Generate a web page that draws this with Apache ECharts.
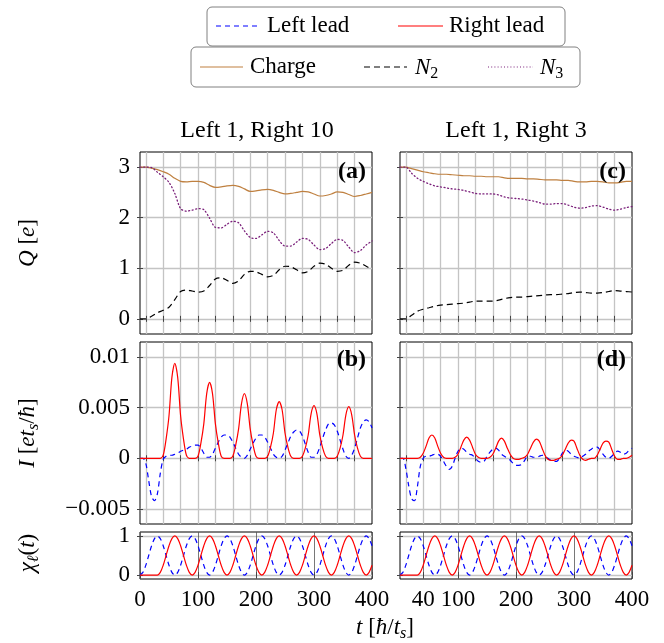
<!DOCTYPE html>
<html><head><meta charset="utf-8">
<script src="https://cdn.jsdelivr.net/npm/echarts@6/dist/echarts.min.js"></script>
<style>html,body{margin:0;padding:0;background:#fff}#c{width:664px;height:643px}</style>
</head><body><div id="c"></div><script>
const tQ = [0,10,20,30,40,50,60,70,80,90,100,110,120,130,140,150,160,170,180,190,200,210,220,230,240,250,260,270,280,290,300,310,320,330,340,350,360,370,380,390,400];
const tI = [0,5,10,15,20,25,30,35,40,45,50,55,60,65,70,75,80,85,90,95,100,105,110,115,120,125,130,135,140,145,150,155,160,165,170,175,180,185,190,195,200,205,210,215,220,225,230,235,240,245,250,255,260,265,270,275,280,285,290,295,300,305,310,315,320,325,330,335,340,345,350,355,360,365,370,375,380,385,390,395,400];

// Panel (a): Left 1, Right 10
const chargeA = [3.00,3.00,2.98,2.95,2.91,2.86,2.78,2.72,2.71,2.72,2.72,2.70,2.64,2.60,2.61,2.63,2.64,2.62,2.57,2.52,2.53,2.55,2.56,2.54,2.50,2.47,2.48,2.50,2.52,2.51,2.47,2.43,2.44,2.47,2.51,2.50,2.46,2.42,2.44,2.47,2.50];
const n2A = [0,0,0.05,0.12,0.17,0.23,0.38,0.54,0.57,0.55,0.53,0.55,0.66,0.79,0.81,0.76,0.70,0.75,0.88,0.94,0.93,0.88,0.83,0.86,0.97,1.04,1.03,0.97,0.91,0.94,1.04,1.10,1.08,1.00,0.94,0.96,1.06,1.12,1.10,1.04,0.98];
const n3A = [3.00,3.00,2.99,2.90,2.81,2.70,2.48,2.18,2.13,2.15,2.18,2.16,1.99,1.81,1.80,1.87,1.93,1.90,1.74,1.61,1.59,1.66,1.73,1.70,1.55,1.44,1.44,1.52,1.59,1.57,1.46,1.37,1.39,1.49,1.57,1.55,1.42,1.31,1.35,1.46,1.54];
// Panel (c): Left 1, Right 3
const chargeC = [3.00,3.00,2.97,2.94,2.91,2.89,2.87,2.86,2.86,2.85,2.84,2.83,2.83,2.82,2.82,2.81,2.81,2.81,2.79,2.78,2.78,2.78,2.77,2.77,2.76,2.75,2.75,2.75,2.74,2.74,2.72,2.71,2.71,2.72,2.72,2.71,2.69,2.69,2.70,2.72,2.72];
const n2C = [0,0,0.07,0.15,0.19,0.22,0.25,0.27,0.28,0.29,0.30,0.31,0.33,0.35,0.35,0.35,0.35,0.37,0.40,0.42,0.43,0.43,0.44,0.45,0.46,0.47,0.48,0.48,0.49,0.50,0.52,0.53,0.52,0.51,0.51,0.52,0.54,0.56,0.55,0.54,0.53];
const n3C = [3.00,3.00,2.88,2.78,2.72,2.67,2.63,2.61,2.59,2.57,2.56,2.54,2.51,2.48,2.47,2.47,2.47,2.45,2.41,2.39,2.38,2.37,2.35,2.33,2.30,2.27,2.27,2.28,2.28,2.25,2.21,2.19,2.20,2.23,2.24,2.21,2.17,2.15,2.17,2.20,2.22];
// Panel (b): currents, Left 1, Right 10
const leftB = [0,0,-0.0005,-0.0022,-0.0038,-0.0042,-0.0035,-0.0015,-0.0001,0.0002,0.0003,0.0003,0.0004,0.0005,0.0007,0.0008,0.0009,0.0011,0.0012,0.0013,0.0013,0.0010,0.0005,0.0001,0.0001,0.0004,0.0010,0.0016,0.0021,0.0023,0.0023,0.0021,0.0016,0.0010,0.0004,0.0001,0,0.0003,0.0009,0.0015,0.0020,0.0023,0.0023,0.0021,0.0016,0.0010,0.0004,0.0001,0,0.0002,0.0008,0.0015,0.0022,0.0026,0.0028,0.0027,0.0022,0.0014,0.0006,0.0001,0.0001,0.0004,0.0011,0.0020,0.0028,0.0034,0.0035,0.0033,0.0027,0.0018,0.0009,0.0002,0,0.0003,0.0010,0.0020,0.0030,0.0036,0.0038,0.0036,0.0030];
const rightB = [0,0,0,0,0,0,0,0,0.0003,0.0019,0.0042,0.0080,0.0094,0.0080,0.0042,0.0019,0.0003,0,0,0,0.0002,0.0015,0.0034,0.0064,0.0075,0.0064,0.0034,0.0015,0.0002,0,0,0,0.0002,0.0013,0.0029,0.0054,0.0064,0.0054,0.0029,0.0013,0.0002,0,0,0,0.0002,0.0011,0.0025,0.0048,0.0056,0.0048,0.0025,0.0011,0.0002,0,0,0,0.0002,0.0010,0.0023,0.0044,0.0052,0.0044,0.0023,0.0010,0.0002,0,0,0,0.0002,0.0010,0.0023,0.0043,0.0051,0.0043,0.0023,0.0010,0.0002,0,0,0,0];
// Panel (d): currents, Left 1, Right 3
const leftD = [0,0,-0.0010,-0.0027,-0.0040,-0.0042,-0.0028,-0.0008,0,0.0002,0.0002,0.0003,0.0004,0.0004,0.0002,-0.0003,-0.0008,-0.0011,-0.0008,0,0.0007,0.0010,0.0009,0.0006,0.0004,0.0003,0,-0.0003,-0.0004,-0.0003,0.0002,0.0006,0.0009,0.0010,0.0008,0.0004,0.0002,0,-0.0002,-0.0005,-0.0007,-0.0007,-0.0006,-0.0002,0.0002,0.0002,0.0001,0.0001,0.0002,0.0003,0.0002,0,-0.0002,-0.0003,-0.0003,0,0.0005,0.0008,0.0007,0.0004,0.0002,0.0001,0,0.0002,0.0004,0.0007,0.0009,0.0011,0.0011,0.0008,0.0004,0.0001,0,0.0002,0.0005,0.0007,0.0006,0.0004,0.0005,0.0008,0.0010];
const rightD = [0,0,0,0,0,0,0,0.0001,0.0005,0.0012,0.0020,0.0023,0.0020,0.0012,0.0005,0.0001,0,0,0,0.0001,0.0004,0.0011,0.0018,0.0021,0.0018,0.0011,0.0004,0.0001,0,0,0,0.0001,0.0004,0.0010,0.0017,0.0020,0.0017,0.0010,0.0004,0,-0.0001,-0.0001,0,0.0001,0.0004,0.0010,0.0016,0.0019,0.0017,0.0010,0.0003,-0.0001,-0.0002,-0.0002,-0.0001,0,0.0003,0.0009,0.0015,0.0018,0.0017,0.0010,0.0003,-0.0001,-0.0002,-0.0001,0,0,0.0003,0.0009,0.0015,0.0017,0.0016,0.0009,0.0002,-0.0001,-0.0001,0,0,0.0001,0.0003];
// Coupling functions chi_l(t)
const chiL = [0,0.07,0.25,0.5,0.75,0.93,1,0.93,0.75,0.5,0.25,0.07,0,0.07,0.25,0.5,0.75,0.93,1,0.93,0.75,0.5,0.25,0.07,0,0.07,0.25,0.5,0.75,0.93,1,0.93,0.75,0.5,0.25,0.07,0,0.07,0.25,0.5,0.75,0.93,1,0.93,0.75,0.5,0.25,0.07,0,0.07,0.25,0.5,0.75,0.93,1,0.93,0.75,0.5,0.25,0.07,0,0.07,0.25,0.5,0.75,0.93,1,0.93,0.75,0.5,0.25,0.07,0,0.07,0.25,0.5,0.75,0.93,1,0.93,0.75];
const chiR = [0,0,0,0,0,0,0,0.07,0.25,0.5,0.75,0.93,1,0.93,0.75,0.5,0.25,0.07,0,0.07,0.25,0.5,0.75,0.93,1,0.93,0.75,0.5,0.25,0.07,0,0.07,0.25,0.5,0.75,0.93,1,0.93,0.75,0.5,0.25,0.07,0,0.07,0.25,0.5,0.75,0.93,1,0.93,0.75,0.5,0.25,0.07,0,0.07,0.25,0.5,0.75,0.93,1,0.93,0.75,0.5,0.25,0.07,0,0.07,0.25,0.5,0.75,0.93,1,0.93,0.75,0.5,0.25,0.07,0,0.07,0.25];

const xGridTicks = [10,40,70,100,130,160,190,220,250,280,310,340,370];
const xLabelsLeft = [0,100,200,300,400];
const xLabelsRight = [40,100,200,300,400];
const yTicksQ = [0,1,2,3];
const yTicksI = [-0.005,0,0.005,0.01];
const yTicksChi = [0,1];
const titles = ['Left 1, Right 10','Left 1, Right 3'];

const SERIF = "'Liberation Serif','DejaVu Serif',serif";
const FS = 23;
const BLUE='#0000ff', RED='#ff0000', BROWN='#bf8040', PURPLE='#7a1f7a';

const cols = [{left:140,width:232},{left:400,width:232}];
const rows = [{top:152,height:182},{top:342,height:182},{top:532,height:47}];
const yRanges = [[-0.3,3.3],[-0.0065,0.0115],[-0.1,1.1]];
const yTicks = [yTicksQ,yTicksI,yTicksChi];

function fmtY(v){ if(v===0) return '0'; return v<0 ? '\u2212'+String(-v) : String(v); }
function pairs(t,v){ return t.map((x,i)=>[x,v[i]]); }

const grid=[], xAxis=[], yAxis=[];
for(let r=0;r<3;r++){
  for(let c=0;c<2;c++){
    const g=r*2+c;
    grid.push({left:cols[c].left, width:cols[c].width, top:rows[r].top, height:rows[r].height,
      show:true, borderColor:'#000', borderWidth:1, backgroundColor:'transparent'});
    const lab = c===0 ? xLabelsLeft : xLabelsRight;
    const xt = r<2 ? xGridTicks : lab;
    xAxis.push({gridIndex:g, type:'value', min:0, max:400, position:'bottom',
      axisLine:{show:false},
      axisTick:{show:true, inside:true, length:3, customValues:xt, lineStyle:{color:'#444',width:1}},
      axisLabel:{show:r===2, customValues:lab, fontFamily:SERIF, fontSize:FS, color:'#000', margin:9,
        showMinLabel:true, showMaxLabel:true, hideOverlap:false},
      splitLine:{show:true, lineStyle:{color: r<2 ? '#c4c4c4' : '#555', width: r<2 ? 1.3 : 0.8}}});
    xAxis.push({gridIndex:g, type:'value', min:0, max:400, position:'top',
      axisLine:{show:false},
      axisTick:{show:true, inside:true, length:3, customValues:xt, lineStyle:{color:'#444',width:1}},
      axisLabel:{show:false}, splitLine:{show:false}});
    yAxis.push({gridIndex:g, type:'value', min:yRanges[r][0], max:yRanges[r][1], position:'left',
      axisLine:{show:false},
      axisTick:{show:true, inside:true, length:3, customValues:yTicks[r], lineStyle:{color:'#444',width:1}},
      axisLabel:{show:c===0, customValues:yTicks[r], formatter:fmtY, fontFamily:SERIF, fontSize:FS, color:'#000', margin:10,
        showMinLabel:true, showMaxLabel:true},
      splitLine:{show:true, lineStyle:{color:'#c4c4c4', width:1.3}}});
    yAxis.push({gridIndex:g, type:'value', min:yRanges[r][0], max:yRanges[r][1], position:'right',
      axisLine:{show:false},
      axisTick:{show:true, inside:true, length:3, customValues:yTicks[r], lineStyle:{color:'#444',width:1}},
      axisLabel:{show:false}, splitLine:{show:false}});
  }
}

function line(g, t, v, color, dash, width, smooth){
  return {type:'line', xAxisIndex:2*g, yAxisIndex:2*g, data:pairs(t,v), showSymbol:false, symbol:'none',
    smooth:smooth, silent:true, animation:false,
    lineStyle:{color:color, width:width, type:dash||'solid', cap: dash && dash[0]<=1.5 ? 'round':'butt'}};
}
const series = [
  line(0,tQ,chargeA,BROWN,null,1.2,0.3),
  line(0,tQ,n2A,'#000',[6,4],1.2,0.3),
  line(0,tQ,n3A,PURPLE,[1,2.6],1.3,0.3),
  line(1,tQ,chargeC,BROWN,null,1.2,0.3),
  line(1,tQ,n2C,'#000',[6,4],1.2,0.3),
  line(1,tQ,n3C,PURPLE,[1,2.6],1.3,0.3),
  line(2,tI,leftB,BLUE,[5,4],1.2,0.3),
  line(2,tI,rightB,RED,null,1.2,0.3),
  line(3,tI,leftD,BLUE,[5,4],1.2,0.3),
  line(3,tI,rightD,RED,null,1.2,0.3),
  line(4,tI,chiL,BLUE,[5,4],1.2,0.3),
  line(4,tI,chiR,RED,null,1.2,0.3),
  line(5,tI,chiL,BLUE,[5,4],1.2,0.3),
  line(5,tI,chiR,RED,null,1.2,0.3)
];

const rich = {
  i:{fontFamily:SERIF, fontStyle:'italic', fontSize:FS, lineHeight:27, fill:'#000'},
  n:{fontFamily:SERIF, fontSize:FS, lineHeight:27, fill:'#000'},
  t:{fontFamily:SERIF, fontSize:24, lineHeight:27, fill:'#000'},
  s:{fontFamily:SERIF, fontStyle:'italic', fontSize:16, lineHeight:16, verticalAlign:'bottom', fill:'#000'},
  u:{fontFamily:SERIF, fontSize:16, lineHeight:16, verticalAlign:'bottom', fill:'#000'}
};
function txt(x,y,text,opt){
  opt=opt||{};
  return {type:'text', x:x, y:y, rotation:opt.rot||0, z:10,
    style:{text:text, rich:rich, font:(opt.bold?'bold ':'')+(opt.size||FS)+'px '+SERIF, fill:'#000',
      align:opt.align||'center', textAlign:opt.align||'center', verticalAlign:'middle', textVerticalAlign:'middle'}};
}
const graphic = [
  {type:'rect', shape:{x:207,y:7,width:358,height:39,r:5}, style:{fill:'#fff',stroke:'#808080',lineWidth:1}},
  {type:'rect', shape:{x:191,y:47,width:389,height:40,r:5}, style:{fill:'#fff',stroke:'#808080',lineWidth:1}},
  {type:'line', shape:{x1:216,y1:26,x2:260,y2:26}, style:{stroke:BLUE,lineWidth:1.2,lineDash:[5,4]}},
  txt(267,26,'{n|Left lead}',{align:'left'}),
  {type:'line', shape:{x1:398,y1:26,x2:443,y2:26}, style:{stroke:RED,lineWidth:1.2}},
  txt(449,26,'{n|Right lead}',{align:'left'}),
  {type:'line', shape:{x1:200,y1:67,x2:243,y2:67}, style:{stroke:BROWN,lineWidth:1.2}},
  txt(250,67,'{n|Charge}',{align:'left'}),
  {type:'line', shape:{x1:364,y1:67,x2:407,y2:67}, style:{stroke:'#000',lineWidth:1.2,lineDash:[6,4]}},
  txt(415,68,'{i|N}{u|2}',{align:'left'}),
  {type:'line', shape:{x1:488,y1:67,x2:533,y2:67}, style:{stroke:PURPLE,lineWidth:1.2,lineDash:[1,2.2]}},
  txt(540,68,'{i|N}{u|3}',{align:'left'}),
  txt(257,131,'{t|'+titles[0]+'}'),
  txt(516,131,'{t|'+titles[1]+'}'),
  txt(366,172,'(a)',{align:'right',bold:true,size:24}),
  txt(366,360,'(b)',{align:'right',bold:true,size:24}),
  txt(626,172,'(c)',{align:'right',bold:true,size:24}),
  txt(626,360,'(d)',{align:'right',bold:true,size:24}),
  txt(28,243,'{i|Q} {n|[}{i|e}{n|]}',{rot:Math.PI/2}),
  txt(28,433,'{i|I} {n|[}{i|et}{s|s}{n|/}{i|ħ}{n|]}',{rot:Math.PI/2}),
  txt(28,553,'{i|χ}{s|ℓ}{n|(}{i|t}{n|)}',{rot:Math.PI/2}),
  txt(385,628,'{i|t} {n|[}{i|ħ}{n|/}{i|t}{s|s}{n|]}')
];

const chart = echarts.init(document.getElementById('c'), null, {renderer:'canvas'});
chart.setOption({animation:false, backgroundColor:'#fff', grid:grid, xAxis:xAxis, yAxis:yAxis, series:series, graphic:graphic});
</script></body></html>
